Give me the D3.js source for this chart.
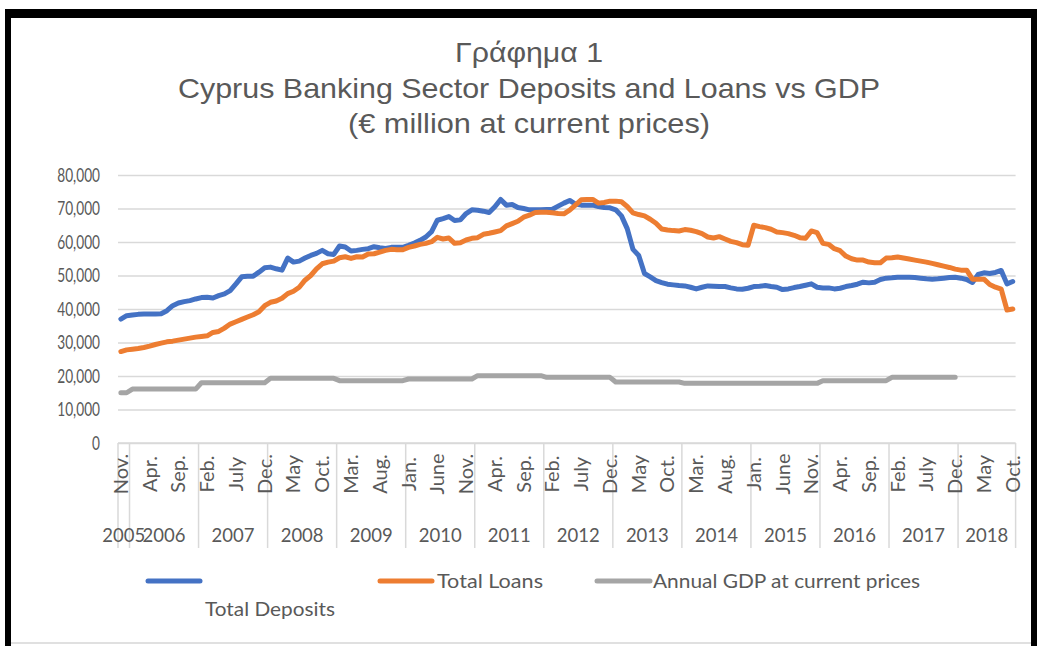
<!DOCTYPE html>
<html><head><meta charset="utf-8">
<script src="https://cdn.jsdelivr.net/npm/d3@7"></script>
<style>body{margin:0;background:#fff}svg{display:block}</style>
</head><body>
<svg id="c" width="1037" height="646"></svg>
<script>
// ---------------- data ----------------
const monthNames = ["Jan.","Feb.","Mar.","Apr.","May","June","July","Aug.","Sep.","Oct.","Nov.","Dec."];
const years = ["2005","2006","2007","2008","2009","2010","2011","2012","2013","2014","2015","2016","2017","2018"];
const monthsPerYear = [2,12,12,12,12,12,12,12,12,12,12,12,12,10];
const startMonth = 10; // Nov 2005 (0 = Jan)
const deposits = [
  37000,38000,
  38200,38400,38500,38500,38500,38600,39500,41000,41800,42200,42500,43000,
  43400,43500,43300,44000,44500,45500,47500,49600,49800,49800,51000,52300,
  52500,52000,51600,55200,54000,54300,55200,56000,56600,57500,56500,56300,
  58800,58500,57300,57500,57800,58000,58600,58300,58100,58400,58400,58400,
  59000,59700,60500,61500,63100,66500,67000,67600,66400,66600,68500,69600,
  69500,69200,68800,70500,72700,71000,71200,70300,70000,69600,69600,69600,
  69700,69800,70700,71600,72400,71300,71000,71000,71000,70600,70300,70200,
  69600,67800,64000,57800,56000,50600,49600,48500,47900,47400,47200,47000,
  46900,46500,46000,46500,46900,46800,46700,46700,46300,46000,45900,46200,
  46700,46800,47000,46700,46500,45800,46000,46400,46700,47100,47500,46500,
  46300,46300,46000,46200,46700,47000,47400,48000,47800,48000,48800,49200,
  49300,49500,49500,49500,49400,49200,49000,48900,49000,49200,49400,49500,
  49200,48800,47900,50300,50800,50600,50900,51500,47500,48200
];
const loans = [
  27300,27800,
  28000,28200,28500,28900,29400,29800,30200,30400,30700,31000,31300,31600,
  31800,32000,33000,33300,34300,35500,36200,36900,37600,38300,39200,41000,
  42000,42400,43200,44600,45300,46500,48600,50000,52000,53500,54000,54300,
  55300,55600,55100,55600,55500,56400,56500,57000,57500,57800,57700,57700,
  58400,58800,59300,59600,60100,61400,60900,61200,59600,59800,60600,61100,
  61300,62300,62600,63000,63400,64800,65500,66200,67400,68000,68800,68900,
  68900,68700,68500,68400,69500,71000,72600,72700,72700,71600,71800,72200,
  72200,72000,70600,68700,68200,67800,66800,65600,63900,63600,63400,63300,
  63700,63500,63100,62500,61500,61200,61600,60900,60200,59800,59200,59000,
  65000,64600,64300,63800,63000,62800,62500,62000,61300,61100,63300,62800,
  59600,59300,58000,57400,55800,55000,54600,54600,54000,53800,53800,55200,
  55300,55500,55200,54900,54600,54300,54000,53600,53200,52800,52400,51900,
  51600,51600,48900,48900,48900,47300,46500,45900,39700,40000
];
const gdpAnnual = [15000,16100,18000,19300,18600,19100,20100,19600,18200,17800,17800,18600,19600,null];
const yTicks = [0,10000,20000,30000,40000,50000,60000,70000,80000];
const seriesNames = ["Total Deposits","Total Loans","Annual GDP at current prices"];
const seriesColors = ["#4472C4","#ED7D31","#A5A5A5"];
const titleLines = ["Γράφημα 1","Cyprus Banking Sector Deposits and Loans vs GDP","(€ million at current prices)"];

// ---------------- derived ----------------
const n = deposits.length;
const yearOf = [];
monthsPerYear.forEach((m, yi) => { for (let k = 0; k < m; k++) yearOf.push(yi); });
const gdp = yearOf.map(yi => gdpAnnual[yi]);

const svg = d3.select("#c");
const txt = "#595959";
const grid = "#d9d9d9";
const axisFont = "Lato,'Liberation Sans',sans-serif";

// frame
svg.append("rect").attr("x",0).attr("y",0).attr("width",1037).attr("height",646).attr("fill","#fff");
svg.append("rect").attr("x",5).attr("y",9).attr("width",1032).attr("height",9).attr("fill","#000");
svg.append("rect").attr("x",5).attr("y",9).attr("width",6).attr("height",637).attr("fill","#000");
svg.append("rect").attr("x",1031).attr("y",9).attr("width",6).attr("height",637).attr("fill","#000");
svg.append("line").attr("x1",11).attr("x2",1031).attr("y1",643).attr("y2",643).attr("stroke","#e0e0e0").attr("stroke-width",2);

// scales
const x = d3.scaleBand().domain(d3.range(n)).range([118, 1015.6]).padding(0);
const xc = i => x(i) + x.bandwidth()/2;
const y = d3.scaleLinear().domain([0, 80000]).range([443, 175]);

// title
const tSizes = [27, 28, 28];
const tBase = [62, 98, 133];
const tWidths = [148, 702, 362];
titleLines.forEach((t, k) => {
  svg.append("text").attr("x", 529).attr("y", tBase[k]).attr("text-anchor","middle")
    .attr("font-family","'Liberation Sans Narrow','Liberation Sans',Arial,sans-serif")
    .attr("font-size", tSizes[k]).attr("fill", txt)
    .attr("textLength", tWidths[k]).attr("lengthAdjust","spacingAndGlyphs")
    .text(t);
});

// gridlines + y labels
const yAxis = d3.axisLeft(y).tickValues(yTicks).tickSize(-(1015.6-118)).tickFormat(d3.format(","));
const ga = svg.append("g").attr("transform","translate(118,0)").call(yAxis);
ga.select(".domain").remove();
ga.selectAll(".tick line").attr("stroke", grid).attr("stroke-width", 1.5);
ga.selectAll(".tick text").attr("x", -25).attr("fill", txt)
  .attr("transform","scale(0.72,1)")
  .attr("font-family", axisFont).attr("font-size", 19);

// category axis line
svg.append("line").attr("x1",118).attr("x2",1015.6).attr("y1",443).attr("y2",443).attr("stroke",grid).attr("stroke-width",1.5);
// year separators
let acc = 0;
const bounds = [0];
monthsPerYear.forEach(m => { acc += m; bounds.push(acc); });
bounds.forEach(b => {
  const xx = b < n ? x(b) : x(n-1) + x.bandwidth();
  svg.append("line").attr("x1",xx).attr("x2",xx).attr("y1",443).attr("y2",548).attr("stroke",grid).attr("stroke-width",1.5);
});
// month labels every 5 months
d3.range(0, n, 5).forEach(i => {
  const name = monthNames[(startMonth + i) % 12];
  svg.append("text").attr("transform", `translate(${xc(i)+7},474) rotate(-90)`)
    .attr("text-anchor","middle").attr("fill", txt)
    .attr("font-family", axisFont).attr("font-size", 20).text(name);
});
// year labels
years.forEach((yr, k) => {
  const a = bounds[k], b = bounds[k+1];
  const left = x(a), right = b < n ? x(b) : x(n-1) + x.bandwidth();
  svg.append("text").attr("x", (left+right)/2).attr("y", 542).attr("text-anchor","middle")
    .attr("fill", txt).attr("font-family", axisFont).attr("font-size", 18.5).text(yr);
});

// lines
const line = d3.line().defined(d => d != null).x((d, i) => xc(i)).y(d => y(d));
[deposits, loans, gdp].forEach((s, k) => {
  svg.append("path").datum(s).attr("d", line).attr("fill","none")
    .attr("stroke", seriesColors[k]).attr("stroke-width", 5)
    .attr("stroke-linejoin","round").attr("stroke-linecap","round");
});

// legend
const legItems = [
  {x1:148, x2:200, tx:205, ty:616, w:130},
  {x1:380, x2:432, tx:437, ty:588, w:106},
  {x1:597, x2:650, tx:653, ty:588, w:267}
];
legItems.forEach((L, k) => {
  svg.append("line").attr("x1",L.x1).attr("x2",L.x2).attr("y1",581).attr("y2",581)
    .attr("stroke", seriesColors[k]).attr("stroke-width",5).attr("stroke-linecap","round");
  svg.append("text").attr("x", L.tx).attr("y", L.ty).attr("fill", txt)
    .attr("font-family", axisFont).attr("font-size", 19)
    .attr("textLength", L.w).attr("lengthAdjust","spacingAndGlyphs").text(seriesNames[k]);
});
</script></body></html>
